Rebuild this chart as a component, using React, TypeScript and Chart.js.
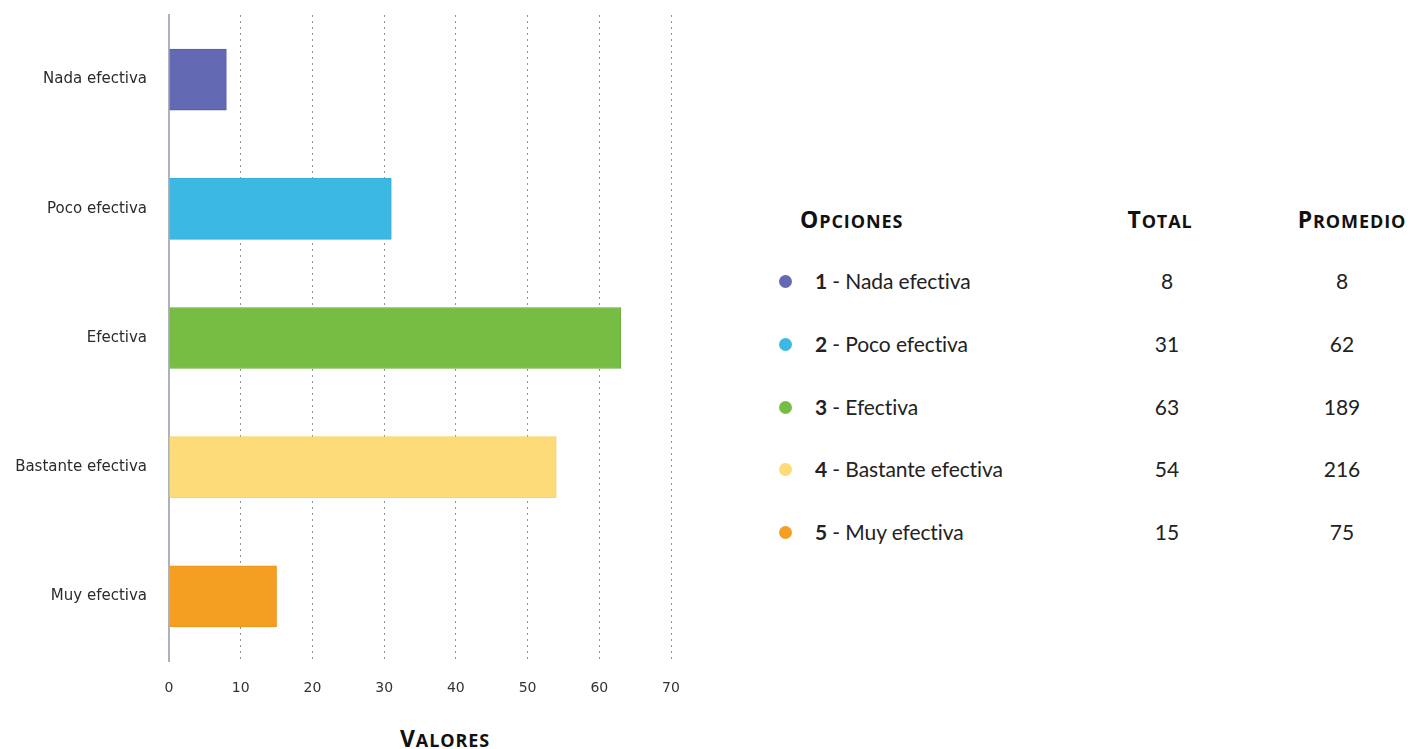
import React, { useEffect, useRef } from "react";
import { Chart, registerables } from "chart.js";

Chart.register(...registerables);

const categories = ["Nada efectiva", "Poco efectiva", "Efectiva", "Bastante efectiva", "Muy efectiva"];
const optionNumbers = [1, 2, 3, 4, 5];
const totals = [8, 31, 63, 54, 15];
const promedios = [8, 62, 189, 216, 75];
const xTicks = [0, 10, 20, 30, 40, 50, 60, 70];
const fillColors = ["#6469b3", "#3bb9e2", "#78bd43", "#fddb78", "#f49e22"];
const borderColors = ["#575ca7", "#34b0d9", "#69ad39", "#f6d16e", "#e9931b"];
const axisTitle = "VALORES";
const headers = ["OPCIONES", "TOTAL", "PROMEDIO"];

const TABLE_FONT = "Lato, 'Open Sans', sans-serif";
const HEAD_FONT = "'Open Sans', sans-serif";

function SmallCaps({ text }: { text: string }) {
  return (
    <span style={{ fontFamily: HEAD_FONT, fontWeight: 700, letterSpacing: "0.9px", color: "#111" }}>
      <span style={{ fontSize: 23 }}>{text.charAt(0)}</span>
      <span style={{ fontSize: 18 }}>{text.slice(1)}</span>
    </span>
  );
}

export default function App() {
  const canvasRef = useRef<HTMLCanvasElement | null>(null);

  useEffect(() => {
    if (!canvasRef.current) return;
    const chart = new Chart(canvasRef.current, {
      type: "bar",
      data: {
        labels: categories,
        datasets: [
          {
            data: totals,
            backgroundColor: fillColors,
            borderColor: borderColors,
            borderWidth: 1,
            barThickness: 61,
          },
        ],
      },
      options: {
        indexAxis: "y",
        responsive: false,
        animation: false,
        layout: { padding: { top: 0, right: 29, left: 0, bottom: 0 } },
        plugins: { legend: { display: false }, tooltip: { enabled: false } },
        scales: {
          x: {
            min: 0,
            max: 70,
            afterBuildTicks: (s: any) => {
              s.ticks = xTicks.map((v) => ({ value: v }));
            },
            afterFit: (s: any) => {
              s.height = 49;
            },
            grid: { color: "#8e93a0", lineWidth: 1, drawTicks: false },
            border: { display: false, dash: [2, 4] },
            ticks: {
              padding: 19,
              color: "#333",
              font: { family: "'DejaVu Sans', sans-serif", size: 14 },
            },
          },
          y: {
            afterFit: (s: any) => {
              s.width = 169;
              s.paddingTop = 15;
              s.paddingBottom = 0;
            },
            grid: { display: false, drawTicks: false },
            border: { display: true, color: "#aeb2bd", width: 2 },
            ticks: {
              padding: 22,
              color: "#2b2b2b",
              font: { family: "'DejaVu Sans', sans-serif", size: 15 },
            },
          },
        },
      },
    } as any);
    return () => chart.destroy();
  }, []);

  const rowCenters = [281, 344, 407, 469, 532];

  return (
    <div
      style={{
        position: "fixed",
        left: 0,
        top: 0,
        width: 1426,
        height: 749,
        background: "#fff",
        overflow: "hidden",
      }}
    >
      <canvas
        ref={canvasRef}
        width={700}
        height={710}
        style={{ position: "absolute", left: 0, top: 0, width: 700, height: 710 }}
      />
      <div style={{ position: "absolute", left: 345, width: 200, top: 724, lineHeight: "28px", textAlign: "center" }}>
        <SmallCaps text={axisTitle} />
      </div>

      {/* Table headers */}
      <div style={{ position: "absolute", left: 800, top: 205, lineHeight: "28px", whiteSpace: "nowrap" }}>
        <SmallCaps text={headers[0]} />
      </div>
      <div
        style={{ position: "absolute", left: 1100, width: 120, top: 205, lineHeight: "28px", textAlign: "center" }}
      >
        <SmallCaps text={headers[1]} />
      </div>
      <div
        style={{ position: "absolute", left: 1282, width: 140, top: 205, lineHeight: "28px", textAlign: "center" }}
      >
        <SmallCaps text={headers[2]} />
      </div>

      {categories.map((cat, i) => {
        const top = rowCenters[i] - 13;
        const common: React.CSSProperties = {
          position: "absolute",
          top,
          lineHeight: "26px",
          fontFamily: TABLE_FONT,
          fontSize: 21,
          color: "#222",
        };
        return (
          <React.Fragment key={cat}>
            <div
              style={{
                position: "absolute",
                left: 779,
                top: rowCenters[i] - 6.5,
                width: 13,
                height: 13,
                borderRadius: "50%",
                background: fillColors[i],
              }}
            />
            <div style={{ ...common, left: 815, whiteSpace: "nowrap", letterSpacing: "-0.1px" }}>
              <span style={{ fontWeight: 700 }}>{optionNumbers[i]}</span>
              {" - " + cat}
            </div>
            <div style={{ ...common, left: 1117, width: 100, textAlign: "center" }}>{totals[i]}</div>
            <div style={{ ...common, left: 1292, width: 100, textAlign: "center" }}>{promedios[i]}</div>
          </React.Fragment>
        );
      })}
    </div>
  );
}
